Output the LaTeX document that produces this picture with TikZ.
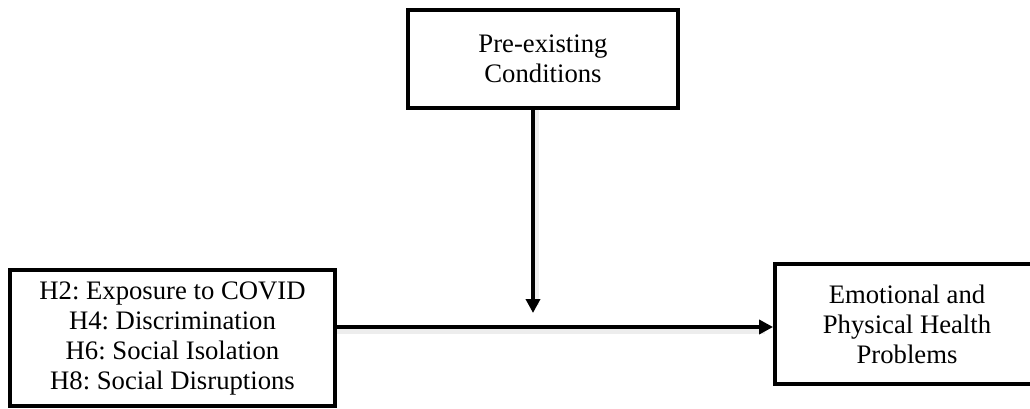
\documentclass[tikz,border=0pt]{standalone}
\usepackage{fontspec}
\setmainfont{Liberation Serif}
\usepackage{tikz}
\usetikzlibrary{arrows.meta}

\begin{document}
\frenchspacing
\begin{tikzpicture}[x=0.5pt,y=-0.5pt,
    box/.style={draw,line width=1.9pt,align=center,inner sep=0pt,
      font=\fontsize{13.35pt}{15pt}\selectfont},
    arr/.style={line width=2pt,-{Triangle[length=7pt,width=7pt]}},
    shade/.style={draw=black!7,line width=3.5pt}]
  \useasboundingbox (0,0) rectangle (1030,408);
  \clip (0,0) rectangle (1030,408);

  \node[box,minimum width=135pt,minimum height=49pt] (cond) at (543,59) {Pre-existing\\Conditions};
  \node[box,minimum width=162.5pt,minimum height=68pt] (hyp) at (172.5,338) {H2: Exposure to COVID\\H4: Discrimination\\H6: Social Isolation\\H8: Social Disruptions};
  \node[box,minimum width=132pt,minimum height=60pt] (out) at (907,324) {Emotional and\\Physical Health\\Problems};

  \coordinate (mid) at (533,327);
  \coordinate (tip) at (533,313);

  % soft shadow under the connectors
  \draw[shade] ([yshift=-1.5pt]hyp.east |- mid) -- ([yshift=-1.5pt,xshift=-4pt]out.west |- mid);
  \draw[shade] ([xshift=1pt]cond.south -| tip) -- ([xshift=1pt,yshift=4pt]tip);

  \draw[arr] (hyp.east |- mid) -- (out.west |- mid);
  \draw[arr,line width=1.8pt] (cond.south -| tip) -- (tip);
\end{tikzpicture}
\end{document}
